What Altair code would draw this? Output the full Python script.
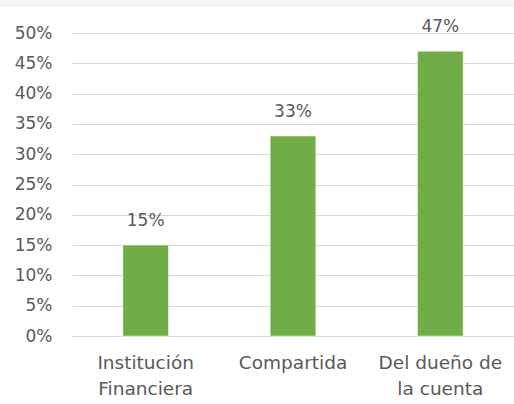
import altair as alt
import pandas as pd

categories = ["Institución Financiera", "Compartida", "Del dueño de la cuenta"]
label_lines = ["Institución|Financiera", "Compartida", "Del dueño de|la cuenta"]
values = [0.15, 0.33, 0.47]
value_labels = ["15%", "33%", "47%"]
tick_values = [0.0, 0.05, 0.10, 0.15, 0.20, 0.25, 0.30, 0.35, 0.40, 0.45, 0.50]

df = pd.DataFrame({"cat": label_lines, "value": values, "lbl": value_labels})

FONT = "DejaVu Sans"
GRAY = "#595959"

x_enc = alt.X("cat:N", sort=label_lines, title=None,
              scale=alt.Scale(paddingInner=0.69, paddingOuter=0.345),
              axis=alt.Axis(labelAngle=0, labelExpr="split(datum.label, '|')",
                            labelFont=FONT, labelFontSize=18.5, labelColor=GRAY,
                            labelLineHeight=26, labelPadding=17, ticks=False,
                            domain=False, labelBaseline="top"))
y_enc = alt.Y("value:Q", title=None,
              scale=alt.Scale(domain=[0, 0.5], nice=False),
              axis=alt.Axis(format=".0%", values=tick_values, labelOverlap=False,
                            labelFont=FONT, labelFontSize=17, labelColor=GRAY,
                            labelPadding=20, ticks=False, domain=False,
                            grid=True, gridColor="#d9d9d9", gridWidth=1.2))

base = alt.Chart(df).encode(x=x_enc, y=y_enc)

bars = base.mark_bar(color="#70ad47", stroke="#ffffff", strokeWidth=0.5)

text = base.mark_text(font=FONT, fontSize=17, color=GRAY, baseline="bottom", dy=-15).encode(
    text="lbl:N",
)

strip = alt.Chart(pd.DataFrame({"a": [0]})).mark_rect(color="#f4f4f4", clip=False).encode(
    x=alt.value(-72), x2=alt.value(442), y=alt.value(-33), y2=alt.value(-26)
)

chart = alt.layer(strip, bars, text).properties(
    width=442, height=303,
    autosize=alt.AutoSizeParams(type="none"),
    padding={"left": 72, "top": 33, "right": 0, "bottom": 68},
    background="#ffffff",
).configure_view(stroke=None)

chart.save("out.html", embed_options={"renderer": "svg", "actions": False})
